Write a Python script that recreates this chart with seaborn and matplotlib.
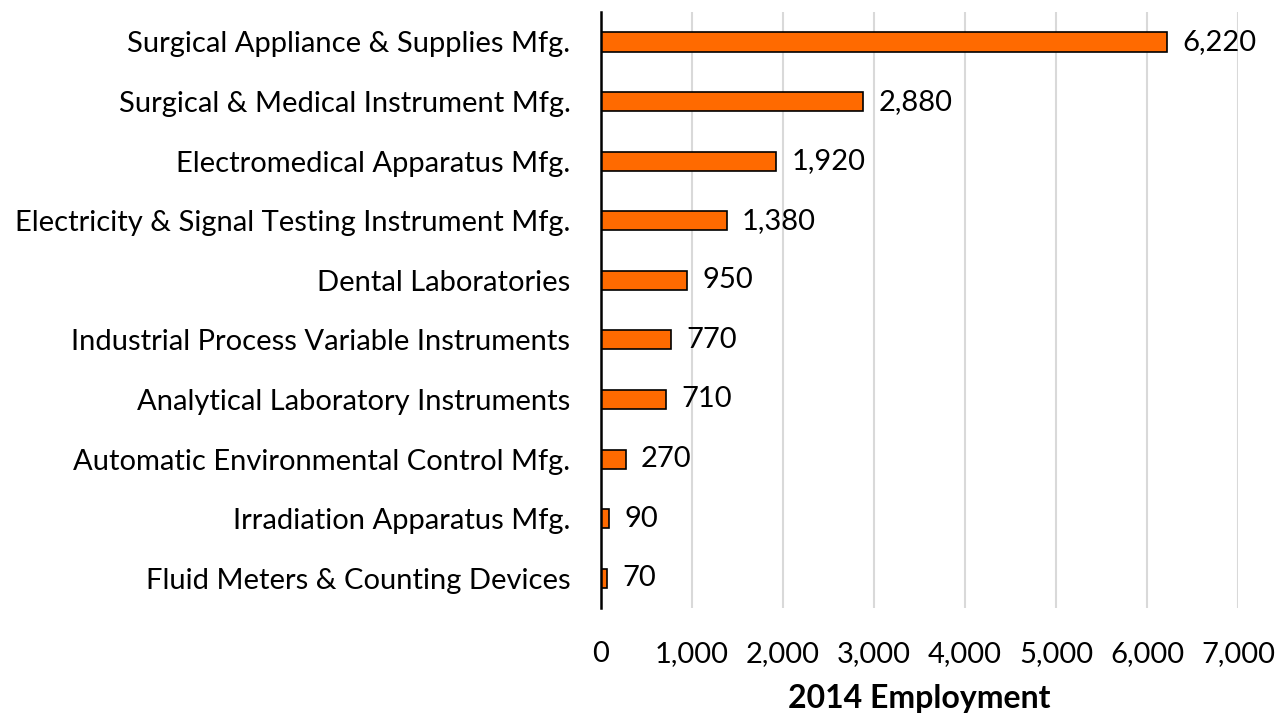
import matplotlib
matplotlib.use("Agg")
import matplotlib.pyplot as plt
import seaborn as sns
import pandas as pd
from matplotlib.ticker import FuncFormatter

industries = [
    "Surgical Appliance & Supplies Mfg.",
    "Surgical & Medical Instrument Mfg.",
    "Electromedical Apparatus Mfg.",
    "Electricity & Signal Testing Instrument Mfg.",
    "Dental Laboratories",
    "Industrial Process Variable Instruments",
    "Analytical Laboratory Instruments",
    "Automatic Environmental Control Mfg.",
    "Irradiation Apparatus Mfg.",
    "Fluid Meters & Counting Devices",
]
employment = [6220, 2880, 1920, 1380, 950, 770, 710, 270, 90, 70]
x_ticks = [0, 1000, 2000, 3000, 4000, 5000, 6000, 7000]

df = pd.DataFrame({"industry": industries, "employment": employment})

sns.set_style("white")
plt.rcParams["font.family"] = ["Lato", "DejaVu Sans"]
plt.rcParams["text.color"] = "black"
plt.rcParams["xtick.color"] = "black"
plt.rcParams["ytick.color"] = "black"
plt.rcParams["axes.labelcolor"] = "black"

fig = plt.figure(figsize=(12.8, 7.17), dpi=100)
ax = fig.add_axes([0.4695, 0.152, 0.4977, 0.831])

sns.barplot(
    data=df,
    x="employment",
    y="industry",
    order=industries,
    color="#FF6A00",
    saturation=1,
    edgecolor="black",
    linewidth=1.2,
    width=0.32,
    ax=ax,
)

ax.set_xlim(0, 7000)
ax.set_ylim(9.5, -0.5)
ax.set_xticks(x_ticks)
ax.xaxis.set_major_formatter(FuncFormatter(lambda v, p: f"{int(v):,}"))
ax.grid(axis="x", color="#d9d9d9", linewidth=1.5)
ax.set_axisbelow(True)

for s in ["top", "right", "bottom"]:
    ax.spines[s].set_visible(False)
ax.spines["left"].set_color("black")
ax.spines["left"].set_linewidth(1.8)

ax.tick_params(axis="y", length=0, pad=22, labelsize=21)
ax.tick_params(axis="x", length=0, pad=24, labelsize=21)

for i, v in enumerate(employment):
    ax.text(v + 170, i, f"{v:,}", va="center", ha="left", fontsize=21)

ax.set_ylabel("")
ax.set_xlabel("2014 Employment", fontsize=23, fontweight="bold", labelpad=12)

fig.savefig("out.png", dpi=100)
